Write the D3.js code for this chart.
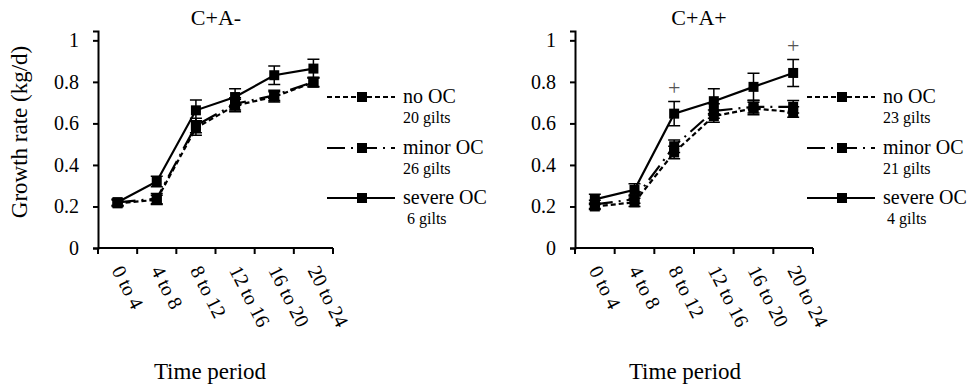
<!DOCTYPE html>
<html>
<head>
    <title>Growth rate by OC group</title>
    <script src="https://d3js.org/d3.v7.min.js"></script>
    <style>
        body { margin: 0; background: #fff; }
    </style>
</head>
<body>
<div id="chart"></div>

<script>
    // x categories (time periods, weeks)
    var periods = ["0 to 4", "4 to 8", "8 to 12", "12 to 16", "16 to 20", "20 to 24"];
    var yTicks = [0, 0.2, 0.4, 0.6, 0.8, 1];

    // C+A- panel
    var leftNoOC = [0.215, 0.232, 0.578, 0.686, 0.728, 0.797];
    var leftNoOCErr = [0.015, 0.022, 0.035, 0.03, 0.025, 0.022];
    var leftMinorOC = [0.22, 0.238, 0.59, 0.694, 0.735, 0.80];
    var leftMinorOCErr = [0.015, 0.025, 0.035, 0.03, 0.025, 0.022];
    var leftSevereOC = [0.22, 0.32, 0.663, 0.727, 0.832, 0.864];
    var leftSevereOCErr = [0.015, 0.025, 0.05, 0.04, 0.045, 0.045];
    var leftGilts = ["20 gilts", "26 gilts", "\u00a06 gilts"];

    // C+A+ panel
    var rightNoOC = [0.20, 0.22, 0.46, 0.635, 0.672, 0.655];
    var rightNoOCErr = [0.015, 0.02, 0.03, 0.03, 0.03, 0.025];
    var rightMinorOC = [0.21, 0.235, 0.49, 0.66, 0.68, 0.68];
    var rightMinorOCErr = [0.02, 0.02, 0.03, 0.035, 0.03, 0.03];
    var rightSevereOC = [0.234, 0.28, 0.647, 0.707, 0.776, 0.843];
    var rightSevereOCErr = [0.025, 0.03, 0.058, 0.06, 0.065, 0.065];
    var rightGilts = ["23 gilts", "21 gilts", "\u00a04 gilts"];
    var rightSig = ["", "", "+", "", "", "+"];

    var groupNames = ["no OC", "minor OC", "severe OC"];
    var dashes = ["5,3", "18,6,2,6", null];

    var FONT = "'Liberation Serif', 'Times New Roman', serif";

    var W = 978, H = 387;
    var svg = d3.select("#chart").append("svg")
        .attr("width", W)
        .attr("height", H)
        .style("font-family", FONT);

    function txt(sel, size) {
        return sel.style("font-family", FONT).style("font-size", size + "px").style("fill", "#000");
    }

    function drawPanel(opt) {
        var x = d3.scaleBand()
            .domain(periods)
            .range([opt.x0, opt.x1])
            .padding(0);

        var y = d3.scaleLinear()
            .domain([0, 1.045])
            .range([248, 31]);

        var g = svg.append("g");

        // y axis
        var yAxis = g.append("g")
            .attr("transform", "translate(" + opt.x0 + ",0)")
            .call(d3.axisLeft(y).tickValues(yTicks).tickSize(5).tickPadding(14)
                .tickFormat(function(d) { return d3.format("")(+d.toFixed(1)); }));
        yAxis.select(".domain").attr("stroke-width", 2);
        yAxis.selectAll(".tick line").attr("stroke-width", 2);
        txt(yAxis.selectAll(".tick text"), 20);

        // x axis with ticks at the band edges
        var edges = periods.map(function(p) { return x(p); }).concat([x.range()[1]]);
        g.append("line")
            .attr("x1", opt.x0).attr("x2", opt.x1)
            .attr("y1", y(0)).attr("y2", y(0))
            .attr("stroke", "#000").attr("stroke-width", 2);
        g.selectAll(".xtick")
            .data(edges)
            .enter().append("line")
            .attr("x1", function(d) { return d; })
            .attr("x2", function(d) { return d; })
            .attr("y1", y(0))
            .attr("y2", y(0) + 6)
            .attr("stroke", "#000").attr("stroke-width", 2);

        txt(g.selectAll(".xlabel")
            .data(periods)
            .enter().append("text")
            .attr("transform", function(d) {
                return "translate(" + (x(d) + x.bandwidth() / 2) + "," + (y(0) + 19) + ") rotate(63)";
            })
            .attr("dy", "0.35em")
            .text(function(d) { return d; }), 20);

        // titles
        txt(g.append("text")
            .attr("x", opt.titleX).attr("y", 25)
            .attr("text-anchor", "middle")
            .text(opt.title), 22);

        txt(g.append("text")
            .attr("x", opt.xLabelX).attr("y", 379)
            .attr("text-anchor", "middle")
            .text("Time period"), 23);

        // series
        var line = d3.line()
            .x(function(d, i) { return x(periods[i]) + x.bandwidth() / 2; })
            .y(function(d) { return y(d); });

        opt.series.forEach(function(s, k) {
            var sg = g.append("g");

            // error bars
            sg.selectAll(".err")
                .data(s.values)
                .enter().append("path")
                .attr("d", function(d, i) {
                    var cx = x(periods[i]) + x.bandwidth() / 2;
                    var lo = y(d - s.err[i]), hi = y(d + s.err[i]);
                    return "M" + (cx - 6) + "," + hi + "H" + (cx + 6) +
                        "M" + cx + "," + hi + "V" + lo +
                        "M" + (cx - 6) + "," + lo + "H" + (cx + 6);
                })
                .attr("stroke", "#000")
                .attr("stroke-width", 1.5)
                .attr("fill", "none");

            sg.append("path")
                .datum(s.values)
                .attr("d", line)
                .attr("fill", "none")
                .attr("stroke", "#000")
                .attr("stroke-width", 2.2)
                .attr("stroke-dasharray", dashes[k]);

            sg.selectAll(".pt")
                .data(s.values)
                .enter().append("rect")
                .attr("x", function(d, i) { return x(periods[i]) + x.bandwidth() / 2 - 5; })
                .attr("y", function(d) { return y(d) - 5; })
                .attr("width", 10)
                .attr("height", 10)
                .attr("fill", "#000");
        });

        // significance markers above severe OC
        if (opt.sig) {
            var sev = opt.series[2];
            txt(g.selectAll(".sig")
                .data(opt.sig)
                .enter().append("text")
                .attr("x", function(d, i) { return x(periods[i]) + x.bandwidth() / 2; })
                .attr("y", function(d, i) { return y(sev.values[i] + sev.err[i] + 0.068); })
                .attr("dy", "0.35em")
                .attr("text-anchor", "middle")
                .text(function(d) { return d; }), 22)
                .style("fill", "#555");
        }

        // legend
        var legY = [97, 148, 198];
        groupNames.forEach(function(name, k) {
            var lg = g.append("g").attr("transform", "translate(" + opt.legX + "," + legY[k] + ")");
            lg.append("line")
                .attr("x1", 0).attr("x2", 68)
                .attr("y1", 0).attr("y2", 0)
                .attr("stroke", "#000")
                .attr("stroke-width", 2.2)
                .attr("stroke-dasharray", dashes[k]);
            lg.append("rect")
                .attr("x", 30).attr("y", -5)
                .attr("width", 10).attr("height", 10)
                .attr("fill", "#000");
            txt(lg.append("text")
                .attr("x", 76).attr("y", 6)
                .text(name), 20);
            txt(lg.append("text")
                .attr("x", 76).attr("y", 26)
                .text(opt.gilts[k]), 16);
        });
    }

    drawPanel({
        x0: 98, x1: 333, title: "C+A-", titleX: 216, xLabelX: 210, legX: 327,
        gilts: leftGilts,
        series: [
            {values: leftNoOC, err: leftNoOCErr},
            {values: leftMinorOC, err: leftMinorOCErr},
            {values: leftSevereOC, err: leftSevereOCErr}
        ]
    });

    drawPanel({
        x0: 575, x1: 813, title: "C+A+", titleX: 699, xLabelX: 685, legX: 807,
        gilts: rightGilts, sig: rightSig,
        series: [
            {values: rightNoOC, err: rightNoOCErr},
            {values: rightMinorOC, err: rightMinorOCErr},
            {values: rightSevereOC, err: rightSevereOCErr}
        ]
    });

    // y label on the left panel
    txt(svg.append("text")
        .attr("transform", "translate(27,132) rotate(-90)")
        .attr("text-anchor", "middle")
        .text("Growth rate (kg/d)"), 23);
</script>
</body>
</html>
